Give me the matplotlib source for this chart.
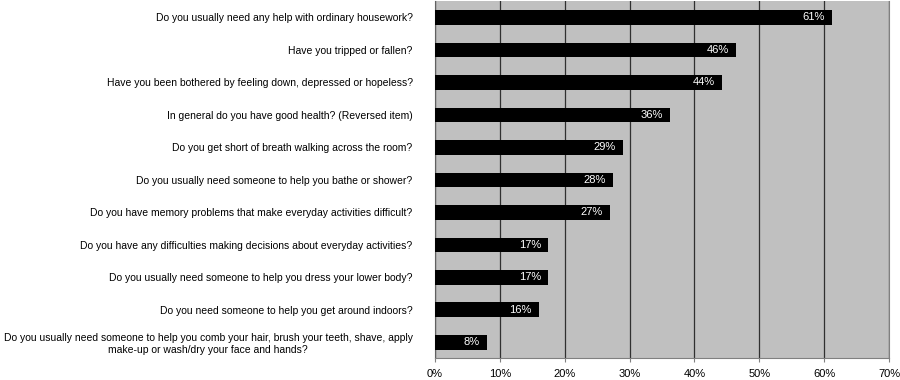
import matplotlib.pyplot as plt
from matplotlib.ticker import FuncFormatter

plt.rcParams['font.family'] = ['Liberation Sans', 'DejaVu Sans']

# Survey items, top to bottom
questions = [
    "Do you usually need any help with ordinary housework?",
    "Have you tripped or fallen?",
    "Have you been bothered by feeling down, depressed or hopeless?",
    "In general do you have good health? (Reversed item)",
    "Do you get short of breath walking across the room?",
    "Do you usually need someone to help you bathe or shower?",
    "Do you have memory problems that make everyday activities difficult?",
    "Do you have any difficulties making decisions about everyday activities?",
    "Do you usually need someone to help you dress your lower body?",
    "Do you need someone to help you get around indoors?",
    "Do you usually need someone to help you comb your hair, brush your teeth, shave, apply\n"
    "make-up or wash/dry your face and hands?",
]
percent = [61.2, 46.4, 44.2, 36.2, 29.0, 27.5, 27.0, 17.5, 17.5, 16.0, 8.0]
percent_labels = ["61%", "46%", "44%", "36%", "29%", "28%", "27%", "17%", "17%", "16%", "8%"]
xticks = [0, 10, 20, 30, 40, 50, 60, 70]

fig = plt.figure(figsize=(9, 3.8), dpi=100)
ax = fig.add_axes([0.4833, 0.0566, 0.5045, 0.9401])
ax.set_facecolor('#C0C0C0')

ypos = list(range(len(questions)))
ax.barh(ypos, percent, height=0.45, color='black', zorder=3)

for y, v, lab in zip(ypos, percent, percent_labels):
    ax.text(v - 1.1, y, lab, color='white', fontsize=8, ha='right', va='center', zorder=4)

ax.set_xlim(0, 70)
ax.set_ylim(len(questions) - 0.5, -0.5)
ax.set_xticks(xticks)
ax.xaxis.set_major_formatter(FuncFormatter(lambda v, p: f"{v:.0f}%"))
ax.set_yticks(ypos)
ax.set_yticklabels(questions, fontsize=7.5, multialignment='center')
ax.tick_params(axis='y', length=0, pad=16)
ax.tick_params(axis='x', length=3, color='#808080', labelsize=8, pad=4.5)

ax.grid(axis='x', color='#303030', linewidth=0.9, zorder=1)
ax.spines['top'].set_visible(False)
ax.spines['left'].set_color('#606060')
ax.spines['bottom'].set_color('#808080')
ax.spines['right'].set_color('#808080')

fig.savefig('out.png', dpi=100)
